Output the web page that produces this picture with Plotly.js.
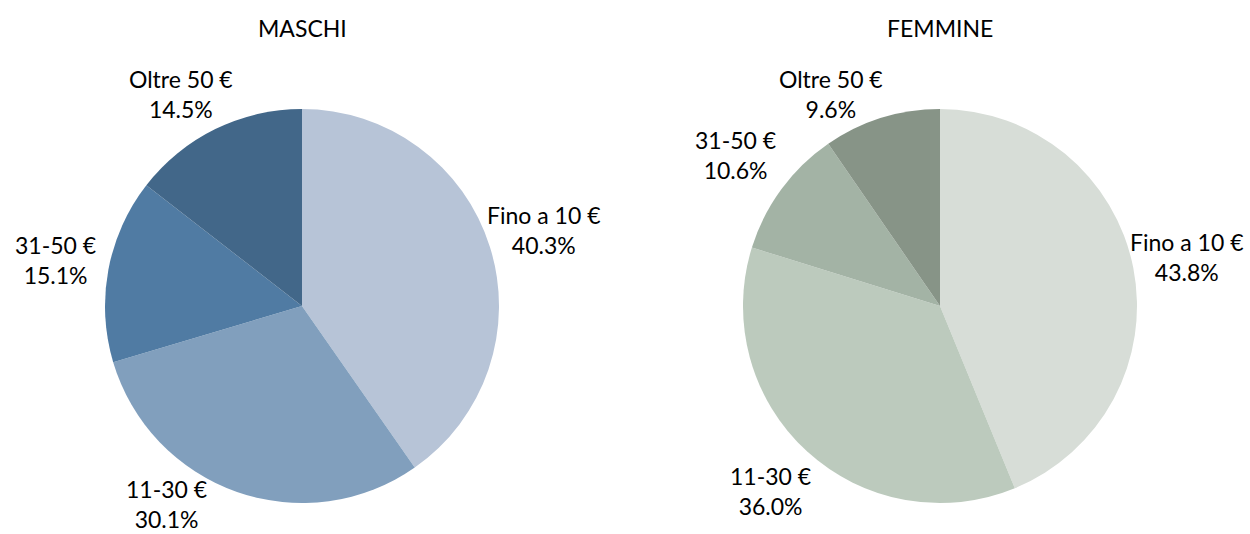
<!DOCTYPE html>
<html>
<head>
<meta charset="utf-8">
<script src="https://cdn.plot.ly/plotly-3.0.1.min.js"></script>
<style>html,body{margin:0;padding:0;background:#fff;}#chart{width:1250px;height:534px;}</style>
</head>
<body>
<div id="chart"></div>
<script>
const categories = ["Fino a 10 €", "11-30 €", "31-50 €", "Oltre 50 €"];
const maschiValues = [40.3, 30.1, 15.1, 14.5];
const femmineValues = [43.8, 36.0, 10.6, 9.6];
const titles = ["MASCHI", "FEMMINE"];
const maschiColors = ["#b7c4d7", "#819fbd", "#507ba3", "#426789"];
const femmineColors = ["#d7ddd7", "#bccabd", "#a3b3a5", "#879487"];

const W = 1250, H = 534;
const FONT = "Lato, 'Open Sans', sans-serif";
const LABEL_SIZE = 23;
const R = 197;               // pie radius in px
const CY = 306;              // pie centre y in px
const centersX = [302, 940]; // pie centres x in px
const TOP_BOUND = 66, BOTTOM_BOUND = 532;
const BOX_HW = 50, BOX_HH = 28;

function dom(cx) { return [(cx - R) / W, (cx + R) / W]; }
const ydom = [(H - (CY + R)) / H, (H - (CY - R)) / H];

function pieTrace(values, colors, cx) {
  return {
    type: "pie",
    labels: categories,
    values: values,
    sort: false,
    direction: "clockwise",
    rotation: 0,
    domain: {x: dom(cx), y: ydom},
    marker: {colors: colors, line: {width: 0}},
    textinfo: "none",
    hoverinfo: "label+value",
    showlegend: false
  };
}

function labelAnnotations(values, cx) {
  const total = values.reduce((a, b) => a + b, 0);
  let cum = 0;
  const out = [];
  values.forEach((v, i) => {
    const mid = (cum + v / 2) / total * 2 * Math.PI;
    cum += v;
    const dx = Math.sin(mid), dy = -Math.cos(mid);
    const pct = v.toFixed(1) + "%";
    const support = Math.abs(dx) * BOX_HW + Math.abs(dy) * BOX_HH;
    const dist = R + support;
    let x = cx + dx * dist, y = CY + dy * dist;
    let cy2 = null;
    if (y + BOX_HH > BOTTOM_BOUND) cy2 = BOTTOM_BOUND - BOX_HH;
    if (y - BOX_HH < TOP_BOUND) cy2 = TOP_BOUND + BOX_HH;
    if (cy2 !== null) {
      const ddy = cy2 - CY;
      const ddx = Math.sqrt(Math.max(0, dist * dist - ddy * ddy));
      x = cx + (dx >= 0 ? 1 : -1) * ddx;
      y = cy2;
    }
    out.push({
      text: categories[i] + "<br>" + pct,
      x: x / W, y: 1 - y / H, xref: "paper", yref: "paper",
      xanchor: "center", yanchor: "middle", align: "center",
      showarrow: false,
      font: {family: FONT, size: LABEL_SIZE, color: "#000"}
    });
  });
  return out;
}

const data = [
  pieTrace(maschiValues, maschiColors, centersX[0]),
  pieTrace(femmineValues, femmineColors, centersX[1])
];
const annotations = [
  {text: titles[0], x: centersX[0] / W, y: 1 - 28 / H, xref: "paper", yref: "paper", xanchor: "center", yanchor: "middle", showarrow: false, font: {family: FONT, size: 23, color: "#000"}},
  {text: titles[1], x: centersX[1] / W, y: 1 - 28 / H, xref: "paper", yref: "paper", xanchor: "center", yanchor: "middle", showarrow: false, font: {family: FONT, size: 23, color: "#000"}}
].concat(labelAnnotations(maschiValues, centersX[0]), labelAnnotations(femmineValues, centersX[1]));

const layout = {
  width: W, height: H,
  margin: {l: 0, r: 0, t: 0, b: 0},
  paper_bgcolor: "#fff",
  showlegend: false,
  annotations: annotations
};
Plotly.newPlot("chart", data, layout, {displayModeBar: false, staticPlot: true});
</script>
</body>
</html>
